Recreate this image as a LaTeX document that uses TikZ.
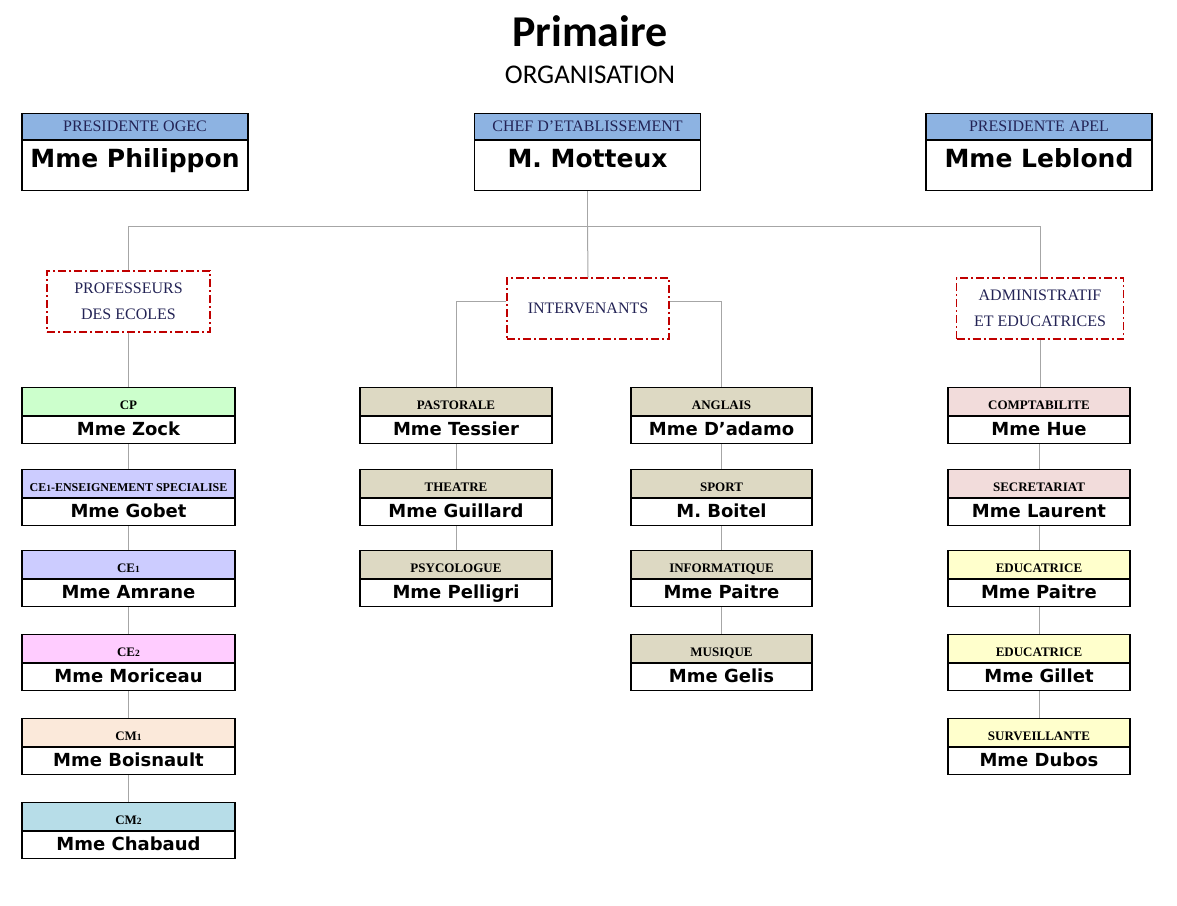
\documentclass[tikz,border=0pt]{standalone}
\usepackage{fontspec}
\setmainfont{Liberation Serif}
\newfontfamily\titrefont{Carlito}
\newfontfamily\nomfont{DejaVu Sans}
\usetikzlibrary{positioning}
\definecolor{bleuhaut}{RGB}{141,179,226}
\definecolor{encre}{RGB}{35,35,85}
\definecolor{vertcp}{RGB}{204,255,204}
\definecolor{mauve}{RGB}{204,204,255}
\definecolor{rose}{RGB}{255,204,255}
\definecolor{peche}{RGB}{251,233,218}
\definecolor{bleucm}{RGB}{183,221,232}
\definecolor{beige}{RGB}{221,217,195}
\definecolor{saumon}{RGB}{242,220,219}
\definecolor{jaune}{RGB}{255,255,204}
\definecolor{rouge}{RGB}{192,0,0}
\definecolor{trait}{RGB}{166,166,166}
\newcommand\chiffre[1]{{\fontsize{9.5}{9.5}\selectfont #1}}
\begin{document}
\begin{tikzpicture}[x=1pt,y=-1pt,line width=1.2pt,
  chefh/.style={draw,fill=bleuhaut,minimum width=226pt,minimum height=26pt,inner sep=0pt,text=encre,font=\fontsize{16}{16}\selectfont,text height=10pt,text depth=0pt},
  chefn/.style={draw,minimum width=226pt,minimum height=50pt,inner sep=0pt,font=\nomfont\bfseries\fontsize{25}{25}\selectfont,text height=18pt,text depth=14pt},
  groupe/.style={draw=rouge,dash pattern=on 8pt off 3pt on 2pt off 3pt,minimum height=61pt,inner sep=0pt,align=center,text=encre,font=\fontsize{16}{26}\selectfont},
  poste/.style={draw,minimum height=28pt,inner sep=0pt,anchor=north,font=\bfseries\fontsize{13}{13}\selectfont,text height=16pt,text depth=0pt},
  nom/.style={draw,fill=white,minimum height=27pt,inner sep=0pt,font=\nomfont\bfseries\fontsize{18}{18}\selectfont,text height=13pt,text depth=3pt},
  lien/.style={draw=trait,line width=1pt}]
\useasboundingbox (0,0) rectangle (1177,905);
\node[font=\titrefont\bfseries\fontsize{44}{44}\selectfont] (titre) at (590,31) {Primaire};
\node[font=\titrefont\fontsize{27}{27}\selectfont] (sous) at (590,75) {ORGANISATION};

\node[chefh,anchor=north] (ogech) at (135,113) {PRESIDENTE OGEC};
\node[chefn,below=0pt of ogech] (ogec) {Mme Philippon};
\node[chefh,anchor=north] (chefh) at (587.5,113) {CHEF D’ETABLISSEMENT};
\node[chefn,below=0pt of chefh] (chef) {M. Motteux};
\node[chefh,anchor=north] (apelh) at (1039,113) {PRESIDENTE APEL};
\node[chefn,below=0pt of apelh] (apel) {Mme Leblond};

\node[groupe,minimum width=163pt] (profs) at (128.5,301.5) {PROFESSEURS\\DES ECOLES};
\node[groupe,minimum width=162pt] (inter) at (588,308.5) {INTERVENANTS};
\node[groupe,minimum width=167pt] (admin) at (1040,308.5) {ADMINISTRATIF\\ET EDUCATRICES};

\coordinate (bus) at (587.5,226);
\draw[lien] (chef.south) -- (bus) -| (profs.north);
\draw[lien] (bus) -- (inter.north);
\draw[lien] (bus) -| (admin.north);

\foreach \n/\y/\col/\lab/\nom in {
  1/387/vertcp/CP/Mme Zock,
  2/469/mauve/{\fontsize{12}{12}\selectfont CE\chiffre{1}-ENSEIGNEMENT SPECIALISE}/Mme Gobet,
  3/550/mauve/{CE\chiffre{1}}/Mme Amrane,
  4/634/rose/{CE\chiffre{2}}/Mme Moriceau,
  5/718/peche/{CM\chiffre{1}}/Mme Boisnault,
  6/802/bleucm/{CM\chiffre{2}}/Mme Chabaud}
{
  \node[poste,fill=\col,minimum width=213pt] (ecoleh\n) at (128.5,\y) {\lab};
  \node[nom,minimum width=213pt,below=0pt of ecoleh\n] (ecole\n) {\nom};
}
\foreach \n/\y/\lab/\nom in {
  1/387/PASTORALE/Mme Tessier,
  2/469/THEATRE/Mme Guillard,
  3/550/PSYCOLOGUE/Mme Pelligri}
{
  \node[poste,fill=beige,minimum width=192pt] (pastoh\n) at (456,\y) {\lab};
  \node[nom,minimum width=192pt,below=0pt of pastoh\n] (pasto\n) {\nom};
}
\foreach \n/\y/\lab/\nom in {
  1/387/ANGLAIS/Mme D’adamo,
  2/469/SPORT/M. Boitel,
  3/550/INFORMATIQUE/Mme Paitre,
  4/634/MUSIQUE/Mme Gelis}
{
  \node[poste,fill=beige,minimum width=181pt] (matiereh\n) at (721.5,\y) {\lab};
  \node[nom,minimum width=181pt,below=0pt of matiereh\n] (matiere\n) {\nom};
}
\foreach \n/\y/\col/\lab/\nom in {
  1/387/saumon/COMPTABILITE/Mme Hue,
  2/469/saumon/SECRETARIAT/Mme Laurent,
  3/550/jaune/EDUCATRICE/Mme Paitre,
  4/634/jaune/EDUCATRICE/Mme Gillet,
  5/718/jaune/SURVEILLANTE/Mme Dubos}
{
  \node[poste,fill=\col,minimum width=182pt] (adminh\n) at (1039,\y) {\lab};
  \node[nom,minimum width=182pt,below=0pt of adminh\n] (admin\n) {\nom};
}

\draw[lien] (profs.south) -- (ecoleh1.north);
\draw[lien] (inter.175) -| (pastoh1.north);
\draw[lien] (inter.5) -| (matiereh1.north);
\draw[lien] (admin.south) -- (admin.south |- adminh1.north);
\foreach \n [count=\m from 2] in {1,...,5} \draw[lien] (ecole\n.south) -- (ecoleh\m.north);
\foreach \n [count=\m from 2] in {1,2} \draw[lien] (pasto\n.south) -- (pastoh\m.north);
\foreach \n [count=\m from 2] in {1,2,3} \draw[lien] (matiere\n.south) -- (matiereh\m.north);
\foreach \n [count=\m from 2] in {1,...,4} \draw[lien] (admin\n.south) -- (adminh\m.north);
\end{tikzpicture}
\end{document}
